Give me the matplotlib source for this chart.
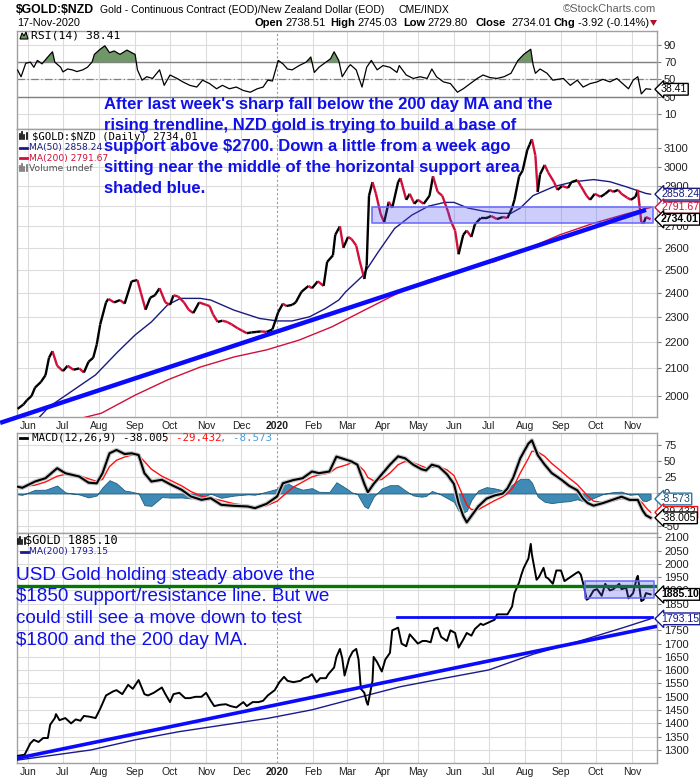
import matplotlib
matplotlib.use("Agg")
import matplotlib.pyplot as plt
import matplotlib.dates as mdates
import matplotlib.patheffects as pe
from matplotlib.collections import LineCollection
from matplotlib.lines import Line2D
from matplotlib.patches import Polygon
from matplotlib.ticker import NullLocator
import numpy as np
import pandas as pd

plt.rcParams['font.family'] = ['Liberation Sans', 'DejaVu Sans']

# ---------------- data ----------------
nzd_dates = ['2019-05-23','2019-05-28','2019-05-31','2019-06-04','2019-06-07','2019-06-12','2019-06-16','2019-06-19',
 '2019-06-22','2019-06-26','2019-07-01','2019-07-05','2019-07-10','2019-07-15','2019-07-19','2019-07-23','2019-07-27',
 '2019-07-30','2019-08-02','2019-08-07','2019-08-09','2019-08-14','2019-08-19','2019-08-23','2019-08-29','2019-09-03',
 '2019-09-06','2019-09-10','2019-09-14','2019-09-18','2019-09-22','2019-09-27','2019-10-01','2019-10-04','2019-10-08',
 '2019-10-13','2019-10-17','2019-10-21','2019-10-26','2019-11-01','2019-11-04','2019-11-07','2019-11-11','2019-11-15',
 '2019-11-19','2019-11-23','2019-11-28','2019-12-02','2019-12-06','2019-12-10','2019-12-14','2019-12-18','2019-12-23',
 '2019-12-28','2020-01-02','2020-01-06','2020-01-09','2020-01-14','2020-01-17','2020-01-22','2020-01-28','2020-01-31',
 '2020-02-05','2020-02-10','2020-02-13','2020-02-18','2020-02-20','2020-02-24','2020-02-27','2020-03-02','2020-03-05',
 '2020-03-09','2020-03-12','2020-03-16','2020-03-18','2020-03-20','2020-03-23','2020-03-26','2020-03-30','2020-04-02',
 '2020-04-06','2020-04-09','2020-04-14','2020-04-16','2020-04-21','2020-04-24','2020-04-28','2020-05-01','2020-05-06',
 '2020-05-11','2020-05-14','2020-05-18','2020-05-22','2020-05-27','2020-05-29','2020-06-02','2020-06-05','2020-06-09',
 '2020-06-12','2020-06-16','2020-06-19','2020-06-24','2020-06-29','2020-07-03','2020-07-08','2020-07-13','2020-07-17',
 '2020-07-21','2020-07-23','2020-07-27','2020-07-30','2020-08-03','2020-08-05','2020-08-07','2020-08-10','2020-08-12',
 '2020-08-14','2020-08-18','2020-08-21','2020-08-26','2020-08-29','2020-09-02','2020-09-07','2020-09-10','2020-09-15',
 '2020-09-18','2020-09-23','2020-09-26','2020-09-30','2020-10-05','2020-10-09','2020-10-13','2020-10-16','2020-10-20',
 '2020-10-23','2020-10-28','2020-10-31','2020-11-04','2020-11-06','2020-11-09','2020-11-11','2020-11-13','2020-11-17']
nzd_close = [1955,1970,1985,2000,2030,2050,2075,2140,
 2165,2110,2090,2110,2095,2100,2085,2125,2140,
 2190,2270,2360,2375,2360,2370,2355,2450,2455,
 2400,2330,2380,2390,2420,2360,2350,2390,2385,
 2360,2330,2316,2360,2350,2345,2310,2280,2285,
 2280,2270,2255,2245,2235,2238,2240,2242,2240,
 2250,2320,2355,2345,2350,2360,2405,2430,2420,
 2450,2430,2535,2565,2660,2700,2600,2650,2640,
 2610,2540,2460,2520,2850,2920,2860,2760,2720,
 2820,2790,2920,2940,2830,2860,2810,2830,2810,
 2850,2950,2870,2850,2770,2730,2680,2570,2660,
 2680,2650,2710,2740,2740,2750,2735,2745,2740,
 2790,2830,2950,2980,3090,3120,3150,3060,2870,
 2960,3010,2970,2920,2880,2900,2890,2920,2930,
 2900,2850,2830,2860,2845,2860,2880,2870,2880,
 2860,2840,2830,2845,2880,2720,2715,2745,2734.01]

nzd_ma50_dates = ['2019-06-08','2019-06-19','2019-07-29','2019-08-17','2019-09-01','2019-09-15','2019-09-29','2019-10-10',
 '2019-10-27','2019-11-05','2019-11-25','2019-12-17','2020-01-01','2020-01-14','2020-01-29','2020-02-12','2020-02-23',
 '2020-02-29','2020-03-14','2020-03-28','2020-04-11','2020-04-26','2020-05-10','2020-05-24','2020-06-01','2020-06-13',
 '2020-06-27','2020-07-11','2020-07-20','2020-07-28','2020-08-08','2020-08-26','2020-09-12','2020-09-29','2020-10-13',
 '2020-10-27','2020-11-13','2020-11-17']
nzd_ma50 = [1915,1962,2076,2162,2228,2280,2350,2377,
 2377,2370,2328,2294,2284,2284,2301,2336,2370,
 2405,2471,2581,2690,2755,2798,2817,2817,2789,
 2773,2763,2763,2789,2851,2897,2922,2933,2922,
 2896,2862,2858.24]

nzd_ma200_dates = ['2019-05-23','2019-07-19','2019-08-03','2019-09-01','2019-09-29','2019-10-27','2019-11-25','2019-12-23',
 '2020-01-20','2020-02-17','2020-03-14','2020-04-11','2020-05-10','2020-06-07','2020-07-06','2020-08-03','2020-08-31',
 '2020-09-29','2020-10-27','2020-11-17']
nzd_ma200 = [1860,1925,1940,2003,2058,2105,2143,2170,
 2208,2260,2323,2392,2455,2500,2537,2595,2660,
 2715,2760,2791.67]

usd_dates = ['2019-05-23','2019-05-29','2019-06-03','2019-06-06','2019-06-10','2019-06-14','2019-06-18','2019-06-20',
 '2019-06-24','2019-06-25','2019-06-28','2019-07-03','2019-07-08','2019-07-12','2019-07-16','2019-07-19','2019-07-24',
 '2019-07-29','2019-08-02','2019-08-07','2019-08-09','2019-08-13','2019-08-16','2019-08-21','2019-08-26','2019-08-30',
 '2019-09-04','2019-09-09','2019-09-12','2019-09-17','2019-09-24','2019-09-27','2019-10-01','2019-10-04','2019-10-09',
 '2019-10-14','2019-10-18','2019-10-23','2019-10-28','2019-11-01','2019-11-05','2019-11-08','2019-11-13','2019-11-18',
 '2019-11-22','2019-11-27','2019-12-03','2019-12-06','2019-12-11','2019-12-16','2019-12-20','2019-12-24','2019-12-30',
 '2020-01-03','2020-01-07','2020-01-10','2020-01-15','2020-01-21','2020-01-24','2020-01-28','2020-01-31','2020-02-04',
 '2020-02-07','2020-02-12','2020-02-14','2020-02-19','2020-02-21','2020-02-24','2020-02-26','2020-02-28','2020-03-03',
 '2020-03-06','2020-03-09','2020-03-11','2020-03-13','2020-03-16','2020-03-18','2020-03-19','2020-03-23','2020-03-24',
 '2020-03-27','2020-03-31','2020-04-03','2020-04-07','2020-04-09','2020-04-14','2020-04-17','2020-04-21','2020-04-24',
 '2020-04-28','2020-05-01','2020-05-05','2020-05-08','2020-05-12','2020-05-15','2020-05-18','2020-05-21','2020-05-26',
 '2020-05-29','2020-06-02','2020-06-05','2020-06-09','2020-06-12','2020-06-16','2020-06-19','2020-06-24','2020-06-26',
 '2020-07-01','2020-07-06','2020-07-08','2020-07-14','2020-07-17','2020-07-21','2020-07-23','2020-07-27','2020-07-29',
 '2020-07-31','2020-08-04','2020-08-06','2020-08-07','2020-08-11','2020-08-13','2020-08-17','2020-08-19','2020-08-21',
 '2020-08-25','2020-08-28','2020-09-01','2020-09-04','2020-09-09','2020-09-14','2020-09-16','2020-09-18','2020-09-21',
 '2020-09-23','2020-09-25','2020-09-29','2020-10-02','2020-10-06','2020-10-09','2020-10-13','2020-10-16','2020-10-21',
 '2020-10-23','2020-10-27','2020-10-29','2020-11-02','2020-11-05','2020-11-06','2020-11-09','2020-11-11','2020-11-13',
 '2020-11-17']
usd_close = [1278,1282,1325,1338,1330,1345,1345,1395,
 1420,1435,1412,1420,1400,1415,1410,1428,1425,
 1420,1455,1505,1510,1520,1525,1510,1545,1530,
 1563,1510,1505,1515,1535,1510,1480,1510,1515,
 1495,1495,1500,1500,1515,1485,1465,1470,1472,
 1465,1460,1480,1465,1480,1480,1485,1505,1525,
 1555,1575,1560,1555,1560,1570,1575,1585,1555,
 1570,1570,1585,1610,1650,1680,1645,1580,1645,
 1670,1680,1640,1530,1515,1480,1470,1560,1650,
 1630,1595,1640,1665,1750,1760,1700,1690,1735,
 1715,1700,1710,1710,1705,1755,1760,1725,1710,
 1750,1740,1685,1715,1740,1730,1755,1775,1770,
 1780,1790,1810,1810,1810,1840,1890,1930,1960,
 1985,2020,2075,2035,1940,1950,1985,1950,1945,
 1925,1975,1975,1935,1950,1965,1970,1960,1910,
 1865,1870,1900,1905,1880,1925,1900,1905,1925,
 1905,1910,1870,1890,1945,1955,1860,1865,1890,
 1885.10]

usd_ma200_dates = ['2019-05-23','2019-07-25','2019-09-01','2019-10-09','2019-11-16','2019-12-24','2020-01-31','2020-03-09',
 '2020-04-16','2020-05-24','2020-07-01','2020-08-08','2020-09-15','2020-10-23','2020-11-17']
usd_ma200 = [1262,1300,1338,1369,1394,1419,1451,1495,
 1538,1570,1601,1660,1707,1758,1793.15]

rsi_dates = ['2019-05-23','2019-05-26','2019-05-30','2019-06-03','2019-06-06','2019-06-09','2019-06-13','2019-06-18',
 '2019-06-22','2019-06-24','2019-06-29','2019-07-01','2019-07-05','2019-07-09','2019-07-13','2019-07-18','2019-07-22',
 '2019-07-26','2019-07-28','2019-08-02','2019-08-06','2019-08-10','2019-08-14','2019-08-19','2019-08-25','2019-08-29',
 '2019-09-01','2019-09-03','2019-09-07','2019-09-11','2019-09-16','2019-09-22','2019-09-26','2019-10-01','2019-10-07',
 '2019-10-12','2019-10-18','2019-10-24','2019-10-29','2019-11-04','2019-11-10','2019-11-15','2019-11-21','2019-11-27',
 '2019-12-03','2019-12-09','2019-12-15','2019-12-20','2019-12-24','2019-12-28','2020-01-02','2020-01-06','2020-01-10',
 '2020-01-14','2020-01-20','2020-01-26','2020-01-30','2020-02-02','2020-02-06','2020-02-12','2020-02-16','2020-02-19',
 '2020-02-23','2020-02-26','2020-03-02','2020-03-04','2020-03-09','2020-03-14','2020-03-18','2020-03-22','2020-03-27',
 '2020-04-01','2020-04-07','2020-04-13','2020-04-15','2020-04-21','2020-04-27','2020-05-03','2020-05-09','2020-05-13',
 '2020-05-17','2020-05-23','2020-05-29','2020-06-04','2020-06-09','2020-06-15','2020-06-21','2020-06-26','2020-07-02',
 '2020-07-08','2020-07-14','2020-07-20','2020-07-26','2020-07-31','2020-08-06','2020-08-08','2020-08-10','2020-08-14',
 '2020-08-20','2020-08-25','2020-09-03','2020-09-09','2020-09-15','2020-09-20','2020-09-26','2020-10-02','2020-10-07',
 '2020-10-13','2020-10-19','2020-10-24','2020-10-29','2020-11-02','2020-11-06','2020-11-09','2020-11-13','2020-11-17']
rsi_vals = [60.8,53,68.6,70,64,72,68,76,
 82,70,64,58.6,62,61,59,61,64,
 70,79,85,89,81,83,79,84,81,
 79,61,49,53,51,61,43,55,51,
 47,43,41,49,45,39,43,39,41,
 37,35,39,41,49,48,72,68,62,
 61,66,70,76,58,64,70,74,82,
 72,53,64,67,61,41,64,72,61,
 66,64,58,66,55,51,53,51,62,
 53,47,45,35,39,45,51,55,52,
 51,53,57,72,79,85,67,57,62,
 57,49,51,43,49,41,45,47,50,
 47,51,45,39,49,53,33,39,38.41]

macd_dates = ['2019-05-23','2019-05-27','2019-06-07','2019-06-16','2019-06-26','2019-07-03','2019-07-15','2019-07-23',
 '2019-07-30','2019-08-04','2019-08-10','2019-08-16','2019-08-23','2019-08-29','2019-09-04','2019-09-09','2019-09-15',
 '2019-09-24','2019-10-02','2019-10-11','2019-10-19','2019-10-28','2019-11-05','2019-11-14','2019-11-25','2019-12-07',
 '2019-12-13','2019-12-23','2020-01-01','2020-01-06','2020-01-15','2020-01-23','2020-01-31','2020-02-06','2020-02-15',
 '2020-02-21','2020-03-01','2020-03-05','2020-03-10','2020-03-16','2020-03-19','2020-03-24','2020-03-31','2020-04-07',
 '2020-04-14','2020-04-20','2020-04-27','2020-05-04','2020-05-08','2020-05-13','2020-05-19','2020-05-26','2020-06-01',
 '2020-06-05','2020-06-09','2020-06-12','2020-06-16','2020-06-22','2020-06-29','2020-07-06','2020-07-13','2020-07-17',
 '2020-07-22','2020-07-28','2020-08-04','2020-08-07','2020-08-12','2020-08-18','2020-08-24','2020-09-01','2020-09-08',
 '2020-09-15','2020-09-20','2020-09-24','2020-09-29','2020-10-07','2020-10-15','2020-10-23','2020-10-30','2020-11-06',
 '2020-11-10','2020-11-13','2020-11-17']
macd_line = [10.7,8.9,18.7,23.9,39.5,31.7,26.5,16.9,
 15.9,31.7,62.8,68,61.7,62.8,60.1,31.7,18.7,
 21.4,13.6,5.8,-4.7,-9.9,-7.3,-17.7,-19.3,-20.3,
 -22.9,-16.1,-4.7,16,21,23.9,34.4,31.7,34.4,
 57.6,52.4,50,45,15,2,15,30,45,
 58,55,45,38,36,45,42,30,15,
 -15,-35,-45,-35,-20,-8,-3,0,8,
 25,55,78,83,60,45,32,22,12,
 5,-8,-15,-19,-15,-10,-5,-10,-10,
 -26,-34,-38.005]
macd_signal = [12,11,13,18,27,30,28,23,
 19,22,42,52,57,60,60,50,38,
 27,20,12,3,-4,-7,-11,-16,-19,
 -21,-19,-12,-4,10,18,26,29,32,
 40,45,48,46,35,25,20,22,32,
 45,50,48,43,40,41,42,37,28,
 12,-5,-18,-25,-25,-18,-11,-5,0,
 10,32,55,66,65,58,47,35,24,
 14,4,-4,-12,-14,-12,-8,-8,-9,
 -15,-22,-29.432]

month_dates = ['2019-06-01','2019-07-01','2019-08-01','2019-09-01','2019-10-01','2019-11-01','2019-12-01','2020-01-01',
 '2020-02-01','2020-03-01','2020-04-01','2020-05-01','2020-06-01','2020-07-01','2020-08-01','2020-09-01','2020-10-01',
 '2020-11-01']
month_labels = ['Jun','Jul','Aug','Sep','Oct','Nov','Dec','2020','Feb','Mar','Apr','May','Jun','Jul','Aug','Sep','Oct','Nov']

rsi_ticks = [10, 30, 50, 70, 90]
main_ticks = [2000, 2100, 2200, 2300, 2400, 2500, 2600, 2700, 2800, 2900, 3000, 3100]
macd_ticks = [-50, -25, 0, 25, 50, 75]
usd_ticks = list(range(1300, 2101, 50))

# annotations drawn by the chart author
nzd_trend_dates = ['2019-05-08', '2020-11-13']
nzd_trend_vals = [1907, 2780]
nzd_zone_dates = ['2020-03-23', '2020-11-19']
nzd_zone_vals = [2715, 2796]
usd_trend_dates = ['2019-05-23', '2020-11-21']
usd_trend_vals = [1269, 1764]
usd_green_level = 1918
usd_blue_dates = ['2020-04-13', '2020-11-18']
usd_blue_level = 1800
usd_zone_dates = ['2020-09-22', '2020-11-20']
usd_zone_vals = [1871, 1937]

top_note = ["After last week's sharp fall below the 200 day MA and the",
            "rising trendline, NZD gold is trying to build a base of",
            "support above $2700. Down a little from a week ago",
            "sitting near the middle of the horizontal support area",
            "shaded blue."]
bottom_note = ["USD Gold holding steady above the",
               "$1850 support/resistance line. But we",
               "could still see a move down to test",
               "$1800 and the 200 day MA."]

# ---------------- figure ----------------
W, H = 700, 780
fig = plt.figure(figsize=(W / 100, H / 100), dpi=100)
fig.patch.set_facecolor('white')
XMIN, XMAX = pd.Timestamp('2019-05-22 12:00'), pd.Timestamp('2020-11-22 12:00')
D = pd.to_datetime
MONTHS = D(month_dates)
GRID = '#dcdcdc'
SPINE = '#a0a0a0'
MONO = 'DejaVu Sans Mono'


def rect(top, bottom, left=17, right=657):
    return [left / W, 1 - bottom / H, (right - left) / W, (bottom - top) / H]


def ft(x, y, s, **kw):
    kw.setdefault('va', 'center')
    kw.setdefault('ha', 'left')
    return fig.text(x / W, 1 - y / H, s, parse_math=False, **kw)


def fp(x, y):
    return (x / W, 1 - y / H)


def style(ax, ticks, ylim, labels, log=False):
    if log:
        ax.set_yscale('log')
    ax.set_xlim(XMIN, XMAX)
    ax.set_ylim(*ylim)
    for sp in ax.spines.values():
        sp.set_color(SPINE)
        sp.set_linewidth(1.0)
    ax.yaxis.tick_right()
    ax.set_yticks(ticks)
    ax.yaxis.set_minor_locator(NullLocator())
    ax.set_yticklabels([str(t) for t in ticks])
    ax.tick_params(axis='y', which='both', length=3, width=0.8, color='#808080',
                   labelsize=8, pad=2, labelcolor='#202020')
    ax.set_xticks(MONTHS)
    ax.xaxis.set_minor_locator(NullLocator())
    if labels:
        ax.set_xticklabels(month_labels)
        for lab in ax.get_xticklabels():
            if lab.get_text() == '2020':
                lab.set_fontweight('bold')
    else:
        ax.set_xticklabels([])
    ax.tick_params(axis='x', length=0, labelsize=7.5, pad=3, labelcolor='#202020')
    for t in ticks:
        ax.axhline(t, color=GRID, lw=0.8, zorder=0)
    for d in MONTHS:
        if d == pd.Timestamp('2020-01-01'):
            ax.axvline(d, color='#9a9a9a', lw=0.8, ls=(0, (2, 2)), zorder=0)
        else:
            ax.axvline(d, color=GRID, lw=0.8, zorder=0)


def vlabel(ax, y, s, ec, bold=False, tc='black', fs=7.6):
    ax.text(1.0 + 4.0 / 640, y, s, transform=ax.get_yaxis_transform(), ha='left', va='center',
            fontsize=fs, fontweight='bold' if bold else 'normal', color=tc,
            bbox=dict(boxstyle='larrow,pad=0.08', fc='white', ec=ec, lw=1.0),
            clip_on=False, zorder=20, parse_math=False)


ax_rsi = fig.add_axes(rect(31, 129))
ax_main = fig.add_axes(rect(129, 417))
ax_macd = fig.add_axes(rect(433, 533))
ax_usd = fig.add_axes(rect(533, 763))

# ---------- RSI ----------
style(ax_rsi, rsi_ticks, (-7.8, 106.2), False)
rd = D(rsi_dates)
rv = np.array(rsi_vals)
ax_rsi.axhline(70, color='#808080', lw=1.0, zorder=1)
ax_rsi.axhline(30, color='#808080', lw=1.0, zorder=1)
ax_rsi.axhline(50, color='#808080', lw=0.9, ls=(0, (6, 2, 1, 2)), zorder=1)
ax_rsi.fill_between(rd, 70, rv, where=rv > 70, interpolate=True, color='#6f9768', lw=0, zorder=2)
ax_rsi.plot(rd, rv, color='black', lw=0.9, zorder=3)
vlabel(ax_rsi, rsi_vals[-1], '38.41', 'black')

# ---------- Main NZD ----------
style(ax_main, main_ticks, (1927, 3207.6), True, log=True)
xn = mdates.date2num(D(nzd_dates))
yv = np.array(nzd_close, dtype=float)
pts = np.column_stack([xn, yv])
segs = np.stack([pts[:-1], pts[1:]], axis=1)
cols = ['#000000' if b >= a else '#d0103a' for a, b in zip(yv[:-1], yv[1:])]
ax_main.add_collection(LineCollection(segs, colors=cols, linewidths=1.7, zorder=4))
ax_main.plot(D(nzd_ma50_dates), nzd_ma50, color='#1a1a80', lw=1.0, zorder=3)
ax_main.plot(D(nzd_ma200_dates), nzd_ma200, color='#d0103a', lw=1.0, zorder=3)
zd = D(nzd_zone_dates)
ax_main.fill_between(zd, nzd_zone_vals[0], nzd_zone_vals[1], facecolor=(0.30, 0.30, 0.95, 0.28),
                     edgecolor=(0.40, 0.40, 1.0, 0.85), lw=1.3, zorder=5)
ax_main.plot(D(nzd_trend_dates), nzd_trend_vals, color='#0a0aff', lw=3.2, zorder=6,
             solid_capstyle='butt', clip_on=False)
vlabel(ax_main, 2858.24, '2858.24', '#1a1a80', tc='#1a1a80')
vlabel(ax_main, 2791.67, '2791.67', '#d0103a', tc='#d0103a')
vlabel(ax_main, 2734.01, '2734.01', 'black', bold=True)

# ---------- MACD ----------
style(ax_macd, macd_ticks, (-61.7, 94.5), False)
md = D(macd_dates)
ml = np.array(macd_line)
ms = np.array(macd_signal)
hist = ml - ms
ax_macd.fill_between(md, 0, hist, facecolor='#3f8bb6', edgecolor='#215f80', lw=0.6, zorder=2)
ax_macd.plot(md, ms, color='#ff1010', lw=1.0, zorder=3)
ax_macd.plot(md, ml, color='black', lw=1.5, zorder=4,
             path_effects=[pe.withStroke(linewidth=3.2, foreground='#c8c8c8')])
vlabel(ax_macd, -8.573, '-8.573', '#2a78a8', tc='#1a4a6a')
vlabel(ax_macd, -29.432, '-29.432', '#ff1010', tc='#202020')
vlabel(ax_macd, -38.005, '-38.005', 'black')

# ---------- USD gold ----------
style(ax_usd, usd_ticks, (1251, 2116), True)
ax_usd.plot(D(usd_ma200_dates), usd_ma200, color='#1a1a90', lw=1.0, zorder=3)
ax_usd.plot(D(usd_dates), usd_close, color='black', lw=1.4, zorder=4)
ax_usd.axhline(usd_green_level, color='#007a00', lw=2.4, zorder=5)
ax_usd.plot(D(usd_blue_dates), [usd_blue_level, usd_blue_level], color='#0a0aff', lw=2.0, zorder=5)
ax_usd.plot(D(usd_trend_dates), usd_trend_vals, color='#0a0aff', lw=2.6, zorder=5)
uz = D(usd_zone_dates)
ax_usd.fill_between(uz, usd_zone_vals[0], usd_zone_vals[1], facecolor=(0.30, 0.30, 0.95, 0.28),
                    edgecolor=(0.40, 0.40, 1.0, 0.85), lw=1.3, zorder=6)
vlabel(ax_usd, 1885.10, '1885.10', 'black', bold=True)
vlabel(ax_usd, 1793.15, '1793.15', '#1a1a90', tc='#1a1a90')

# ---------- header ----------
ft(16, 10, '$GOLD:$NZD', fontsize=8.8, fontweight='bold')
ft(100, 10, 'Gold - Continuous Contract (EOD)/New Zealand Dollar (EOD)', fontsize=7.5)
ft(398, 10, 'CME/INDX', fontsize=7.5)
ft(656, 9, '\u00a9StockCharts.com', fontsize=8, color='#606060', ha='right')
ft(17, 23, '17-Nov-2020', fontsize=7.8)
hdr = [(254, 'Open', True), (285, '2738.51', False), (330, 'High', True), (357, '2745.03', False),
       (403, 'Low', True), (427, '2729.80', False), (475, 'Close', True), (511, '2734.01', False),
       (554, 'Chg', True), (578, '-3.92 (-0.14%)', False)]
for x, s, b in hdr:
    ft(x, 23, s, fontsize=8, fontweight='bold' if b else 'normal')
fig.add_artist(Polygon([fp(650, 20), fp(657, 20), fp(653.5, 26)], closed=True,
                       transform=fig.transFigure, fc='#b0102a', ec='none'))

# ---------- legends ----------
fig.add_artist(Polygon([fp(20, 39), fp(22, 33), fp(24, 36), fp(26, 32), fp(28, 39)], closed=True,
                       transform=fig.transFigure, fc='#6f9768', ec='black', lw=0.8))
ft(31, 35, 'RSI(14) 38.41', fontsize=8.2, family=MONO)


def bar_icon(x, y, color):
    for dx, h in [(0, 5), (2.2, 7), (4.4, 4), (6.6, 6)]:
        fig.add_artist(Line2D([(x + dx) / W, (x + dx) / W], [1 - (y + 3) / H, 1 - (y + 3 - h) / H],
                              transform=fig.transFigure, color=color, lw=1.2))


def dash_icon(x, y, color):
    fig.add_artist(Line2D([x / W, (x + 7) / W], [1 - y / H, 1 - y / H], transform=fig.transFigure,
                          color=color, lw=2))


bar_icon(20, 136, 'black')
ft(32, 136.5, '$GOLD:$NZD (Daily) 2734.01', fontsize=7.7, family=MONO)
dash_icon(20, 147.5, '#1a1a80')
ft(29, 147.5, 'MA(50) 2858.24', fontsize=6.6, family='DejaVu Sans', color='#1a1a80')
dash_icon(20, 158, '#d0103a')
ft(29, 158, 'MA(200) 2791.67', fontsize=6.6, family='DejaVu Sans', color='#d0103a')
bar_icon(20, 168, '#707070')
ft(29, 168.5, 'Volume undef', fontsize=6.6, family='DejaVu Sans', color='#505050')

dash_icon(20, 438, 'black')
cw = 6.26
mx = 32
ft(mx, 438, 'MACD(12,26,9) -38.005', fontsize=7.8, family=MONO, color='black')
ft(mx + 21 * cw, 438, ', -29.432', fontsize=7.8, family=MONO, color='#ff1010')
ft(mx + 30 * cw, 438, ', -8.573', fontsize=7.8, family=MONO, color='#4a9fd8')

bar_icon(18, 540.5, 'black')
ft(25, 540.5, '$GOLD 1885.10', fontsize=8.6, family=MONO)
dash_icon(21, 551.5, '#1a1a90')
ft(29, 551.5, 'MA(200) 1793.15', fontsize=6.6, family='DejaVu Sans', color='#1a1a90')

# ---------- author notes ----------
for i, line in enumerate(top_note):
    ft(104, 105 + i * 20.8, line, fontsize=12.0, fontweight='bold', color='#1010e8', zorder=30)
for i, line in enumerate(bottom_note):
    ft(16, 575 + i * 21.7, line, fontsize=13.6, color='#1010e8', zorder=30)

fig.savefig('out.png', dpi=100, facecolor='white')
